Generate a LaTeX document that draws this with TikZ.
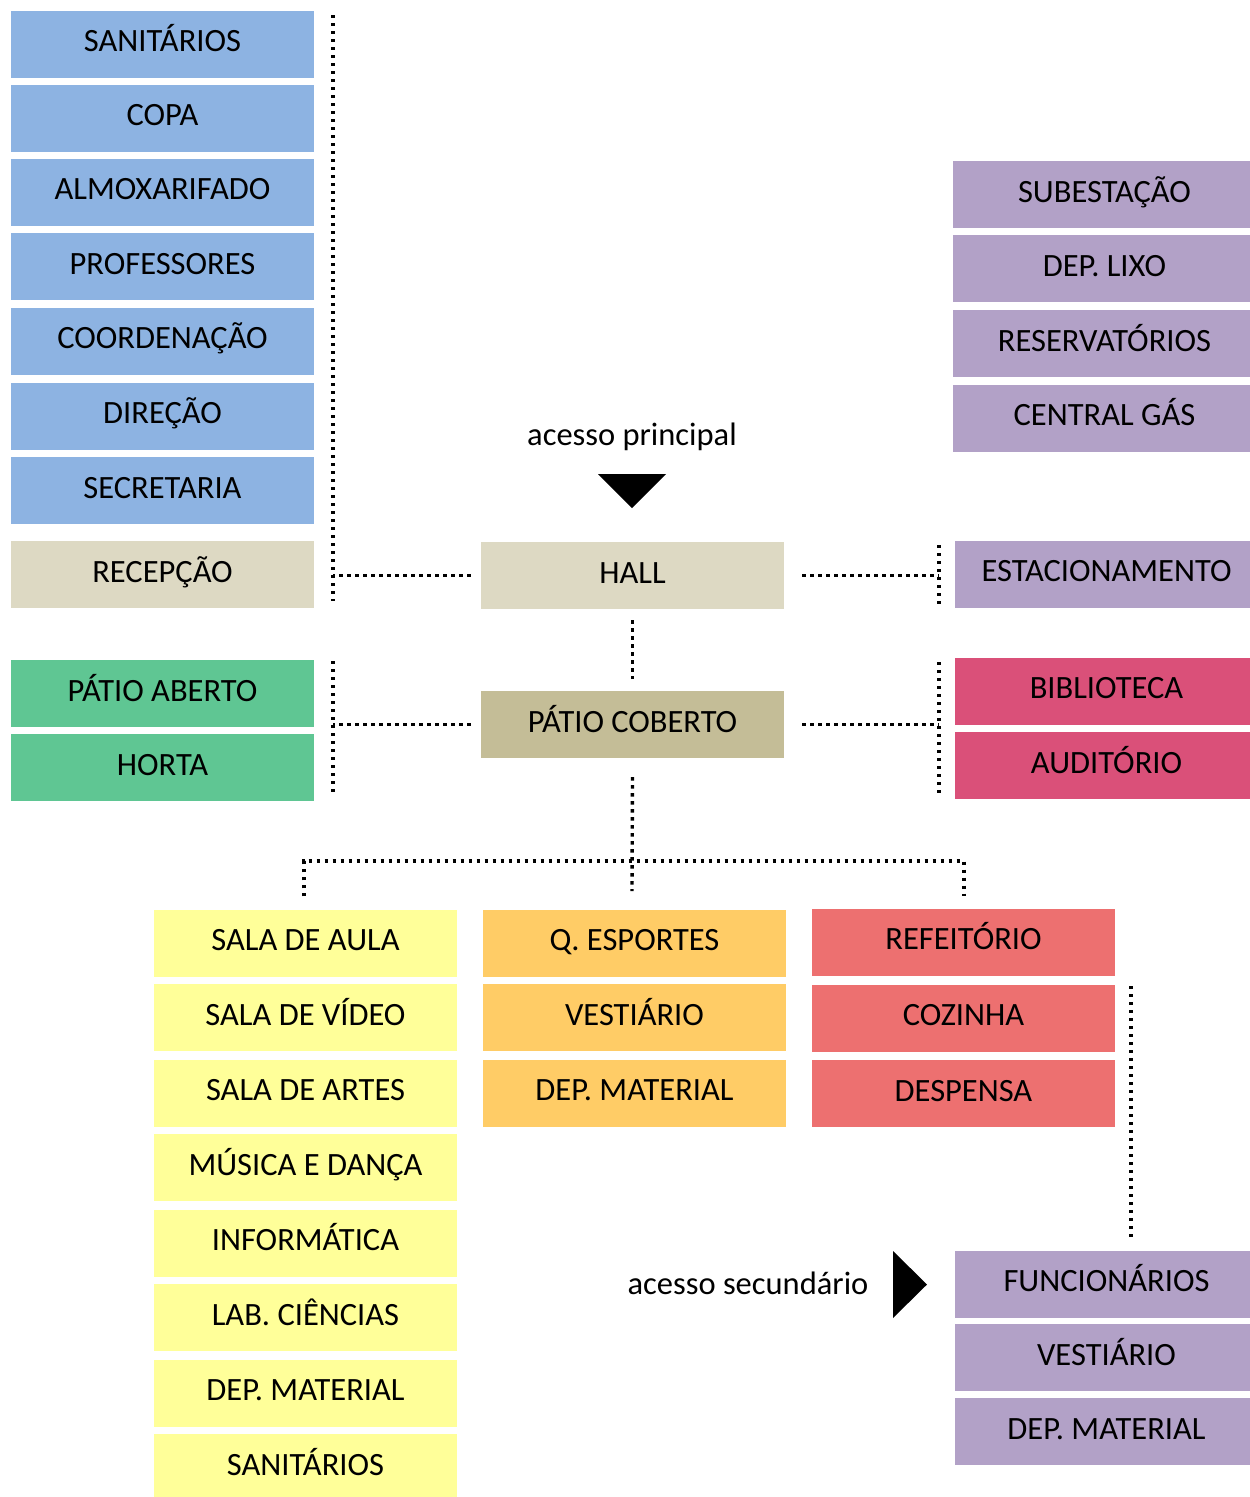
\documentclass[tikz,border=0pt]{standalone}
\usepackage{fontspec}
\setmainfont{Carlito}
\definecolor{cblue}{HTML}{8DB3E2}
\definecolor{ctan}{HTML}{DDD9C3}
\definecolor{cpatio}{HTML}{C4BD97}
\definecolor{cgreen}{HTML}{5FC693}
\definecolor{cpurple}{HTML}{B2A1C7}
\definecolor{cpink}{HTML}{DA5079}
\definecolor{cyellow}{HTML}{FFFF99}
\definecolor{corange}{HTML}{FFCC66}
\definecolor{cred}{HTML}{ED7070}
\begin{document}
\begin{tikzpicture}[x=1pt,y=-1pt,
  room/.style={fill=#1, minimum height=67pt, inner sep=0pt, text height=15pt, text depth=0pt,
    font=\fontsize{32.5}{38}\selectfont},
  wroom/.style={room=#1, minimum width=303pt},
  label/.style={inner sep=0pt, font=\fontsize{32.5}{38}\selectfont},
  dotline/.style={line width=3.4pt, dash pattern=on 3.4pt off 4.6pt}]
\clip (0,0) rectangle (1250,1497);
\fill[white] (0,0) rectangle (1250,1497);
% left blue column
\node[wroom=cblue] (san1) at (162.5,44) {SANITÁRIOS};
\node[wroom=cblue] (copa) at (162.5,118) {COPA};
\node[wroom=cblue] (almox) at (162.5,192) {ALMOXARIFADO};
\node[wroom=cblue] (prof) at (162.5,266.5) {PROFESSORES};
\node[wroom=cblue] (coord) at (162.5,341) {COORDENAÇÃO};
\node[wroom=cblue] (dir) at (162.5,416) {DIREÇÃO};
\node[wroom=cblue] (secr) at (162.5,490.5) {SECRETARIA};
\node[wroom=ctan] (recep) at (162.5,574.5) {RECEPÇÃO};
% top right purple
\node[wroom=cpurple] (subest) at (1104.5,194.5) {SUBESTAÇÃO};
\node[wroom=cpurple] (lixo) at (1104.5,268.5) {DEP. LIXO};
\node[wroom=cpurple] (reserv) at (1104.5,343.5) {RESERVATÓRIOS};
\node[wroom=cpurple] (gas) at (1104.5,418) {CENTRAL GÁS};
\node[wroom=cpurple] (estac) at (1106.5,574) {ESTACIONAMENTO};
% centre
\node[label] (acp) at (632,437) {acesso principal};
\fill (598,474) -- (666,474) -- (632,508) -- cycle;
\node[wroom=ctan] (hall) at (632.5,575.5) {HALL};
\node[wroom=cpatio] (pcob) at (632.5,724.5) {PÁTIO COBERTO};
% green
\node[wroom=cgreen] (pab) at (162.5,693.5) {PÁTIO ABERTO};
\node[wroom=cgreen] (horta) at (162.5,767.5) {HORTA};
% pink
\node[wroom=cpink] (bibl) at (1106.5,691) {BIBLIOTECA};
\node[wroom=cpink] (audit) at (1106.5,765.5) {AUDITÓRIO};
% yellow
\node[wroom=cyellow] (aula) at (305.5,943) {SALA DE AULA};
\node[wroom=cyellow] (video) at (305.5,1017.5) {SALA DE VÍDEO};
\node[wroom=cyellow] (artes) at (305.5,1093) {SALA DE ARTES};
\node[wroom=cyellow] (musica) at (305.5,1167.5) {MÚSICA E DANÇA};
\node[wroom=cyellow] (info) at (305.5,1243) {INFORMÁTICA};
\node[wroom=cyellow] (lab) at (305.5,1317.5) {LAB. CIÊNCIAS};
\node[wroom=cyellow] (depy) at (305.5,1393) {DEP. MATERIAL};
\node[wroom=cyellow] (san2) at (305.5,1467.5) {SANITÁRIOS};
% orange
\node[wroom=corange] (esport) at (634.5,943) {Q. ESPORTES};
\node[wroom=corange] (vest1) at (634.5,1017.5) {VESTIÁRIO};
\node[wroom=corange] (depo) at (634.5,1093) {DEP. MATERIAL};
% red
\node[wroom=cred] (refei) at (963.5,942) {REFEITÓRIO};
\node[wroom=cred] (cozi) at (963.5,1018) {COZINHA};
\node[wroom=cred] (desp) at (963.5,1093.5) {DESPENSA};
% bottom purple
\node[wroom=cpurple] (func) at (1106.5,1284) {FUNCIONÁRIOS};
\node[wroom=cpurple] (vest2) at (1106.5,1357.5) {VESTIÁRIO};
\node[wroom=cpurple] (depp) at (1106.5,1431.5) {DEP. MATERIAL};
\node[label] (acs) at (748,1283) {acesso secundário};
\fill (893,1251) -- (893,1318) -- (927,1284.5) -- cycle;
% connectors
\coordinate (lsT) at (333,15);
\coordinate (lsB) at (333,601);
\draw[dotline] (lsT) -- (lsB);
\draw[dotline] ([xshift=-10pt]hall.west) -- (hall.west -| lsB);
\coordinate (rsT) at (939,545);
\coordinate (rsB) at (939,604);
\draw[dotline] (rsT) -- (rsB);
\draw[dotline] ([xshift=18pt]hall.east) -- (hall.east -| rsB);
\draw[dotline] ([yshift=-11pt]hall.south) -- ([yshift=12pt]pcob.north);
\coordinate (lgT) at (333,661);
\coordinate (lgB) at (333,793);
\draw[dotline] (lgT) -- (lgB);
\draw[dotline] ([xshift=-10pt]pcob.west) -- (pcob.west -| lgB);
\coordinate (rpT) at (939,662);
\coordinate (rpB) at (939,794);
\draw[dotline] (rpT) -- (rpB);
\draw[dotline] ([xshift=18pt]pcob.east) -- (pcob.east -| rpB);
\coordinate (tree) at (632,861);
\coordinate (treeL) at (304,861);
\coordinate (treeR) at (964,861);
\draw[dotline] ([yshift=-19pt]pcob.south) -- (632,891);
\draw[dotline] (treeL |- aula.north) ++(0,-13) -- (treeL) -- (treeR) -- ++(0,35);
\coordinate (ksT) at (1131,986);
\coordinate (ksB) at (1131,1237);
\draw[dotline] (ksT) -- (ksB);
\end{tikzpicture}
\end{document}
